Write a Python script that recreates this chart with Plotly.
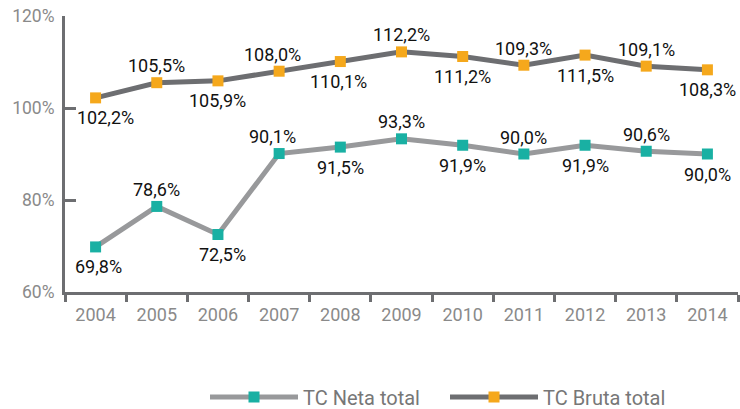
import plotly.graph_objects as go

years = ["2004", "2005", "2006", "2007", "2008", "2009", "2010", "2011", "2012", "2013", "2014"]
neta = [69.8, 78.6, 72.5, 90.1, 91.5, 93.3, 91.9, 90.0, 91.9, 90.6, 90.0]
bruta = [102.2, 105.5, 105.9, 108.0, 110.1, 112.2, 111.2, 109.3, 111.5, 109.1, 108.3]
# label placement: +1 above the point, -1 below
neta_side = [-1, 1, -1, 1, -1, 1, -1, 1, -1, 1, -1]
bruta_side = [-1, 1, -1, 1, -1, 1, -1, 1, -1, 1, -1]
neta_dx = [3, 0, 5, -7, 0, 0, 0, 0, 0, 0, 0]
bruta_dx = [10, 0, 0, -7, -2, 0, 0, 0, 0, 0, 0]

def fmt(v):
    return f"{v:.1f}".replace(".", ",") + "%"

FONT = "Roboto"
fig = go.Figure()
fig.add_trace(go.Scatter(
    x=years, y=neta, name="TC Neta total", mode="lines+markers",
    line=dict(color="#98999b", width=5),
    marker=dict(symbol="square", size=11, color="#19b0a3"),
    cliponaxis=False,
))
fig.add_trace(go.Scatter(
    x=years, y=bruta, name="TC Bruta total", mode="lines+markers",
    line=dict(color="#6d6e71", width=5),
    marker=dict(symbol="square", size=11, color="#f5a81c"),
    cliponaxis=False,
))

for vals, sides, dxs in ((neta, neta_side, neta_dx), (bruta, bruta_side, bruta_dx)):
    for i, (v, s, dx) in enumerate(zip(vals, sides, dxs)):
        fig.add_annotation(
            x=i, y=v, text=fmt(v), showarrow=False,
            xshift=dx, yshift=17 if s > 0 else -20,
            font=dict(family=FONT, size=18, color="#111111"),
        )

fig.update_layout(
    width=740, height=409,
    margin=dict(l=65, r=2, t=16, b=117, autoexpand=False),
    plot_bgcolor="white", paper_bgcolor="white",
    font=dict(family=FONT, size=17, color="#8a8a8a"),
    showlegend=True,
    legend=dict(orientation="h", x=205 / 740, xanchor="left", xref="container",
                y=-0.38, yanchor="middle", yref="paper",
                font=dict(family=FONT, size=20, color="#777777"),
                itemwidth=88, entrywidth=137),
    xaxis=dict(
        type="category", range=[-0.5, 10.5], automargin=False,
        showline=True, linecolor="#6d6e71", linewidth=3,
        ticks="outside", tickson="boundaries", ticklen=7, tickwidth=3, tickcolor="#6d6e71",
        showgrid=False, tickfont=dict(size=18, color="#8a8a8a"), ticklabelstandoff=4,
    ),
    yaxis=dict(
        range=[60, 120], tickvals=[60, 80, 100, 120], automargin=False,
        ticktext=["60%", "80%", "100%", "120%"],
        showline=True, linecolor="#6d6e71", linewidth=3,
        ticks="inside", ticklen=11, tickwidth=3, tickcolor="#6d6e71",
        showgrid=False, zeroline=False, tickfont=dict(size=17.5, color="#8a8a8a"),
        ticklabelstandoff=4,
    ),
)
fig.write_html("out.html", config={"displayModeBar": False})

with open("out.html", "r", encoding="utf-8") as f:
    html = f.read()
html = html.replace("<head>", "<head><style>html,body{margin:0;padding:0;overflow:hidden;}</style>", 1)
with open("out.html", "w", encoding="utf-8") as f:
    f.write(html)
